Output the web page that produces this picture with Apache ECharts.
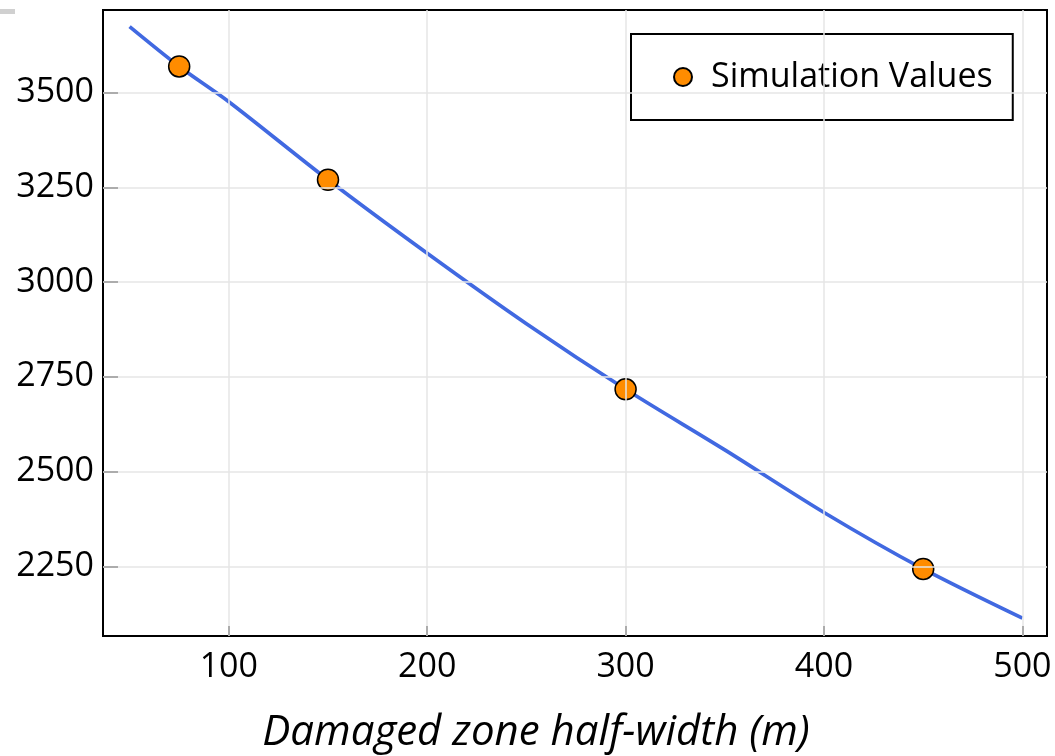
<!DOCTYPE html>
<html>
<head>
<meta charset="utf-8">
<script src="https://cdn.jsdelivr.net/npm/echarts@6/dist/echarts.min.js"></script>
<style>html,body{margin:0;padding:0;background:#fff;}#c{width:1055px;height:756px;}</style>
</head>
<body>
<div id="c"></div>
<script>
// Data
const curveX = [50, 75, 100, 150, 200, 250, 300, 350, 400, 450, 500];
const curveY = [3674, 3569, 3476, 3270, 3076, 2890, 2717, 2557, 2392, 2243, 2113];
const simX = [75, 150, 300, 450];
const simY = [3569, 3270, 2717, 2243];
const xTicks = [100, 200, 300, 400, 500];
const yTicks = [2250, 2500, 2750, 3000, 3250, 3500];

const font = 'Open Sans';
const chart = echarts.init(document.getElementById('c'), null, {renderer: 'canvas'});
chart.setOption({
  animation: false,
  backgroundColor: '#fff',
  grid: {left: 103, top: 10, right: 8, bottom: 120, containLabel: false, outerBoundsMode: 'none',
         show: true, borderColor: '#000', borderWidth: 2, backgroundColor: 'transparent'},
  legend: {
    left: 631, top: 34,
    data: ['Simulation Values'],
    borderColor: '#000', borderWidth: 2, borderRadius: 0,
    padding: [26, 20, 26, 42],
    itemWidth: 18, itemHeight: 18,
    textStyle: {fontFamily: font, fontSize: 34, color: '#000', padding: [0, 0, 0, 14]}
  },
  xAxis: {
    type: 'value', min: 36.6, max: 512.4,
    axisLine: {show: true, lineStyle: {color: '#000', width: 2}},
    axisTick: {show: true, inside: true, length: 10, lineStyle: {color: '#000', width: 2}, customValues: xTicks},
    axisLabel: {customValues: xTicks, fontFamily: font, fontSize: 34, color: '#000', margin: 14, formatter: v => String(v)},
    splitLine: {show: false},
    name: 'Damaged zone half-width (m)', nameLocation: 'middle', nameGap: 76,
    nameTextStyle: {fontFamily: font, fontSize: 42, fontStyle: 'italic', color: '#000', padding: [0, 78, 0, 0]}
  },
  yAxis: {
    type: 'value', min: 2066, max: 3718,
    axisLine: {show: true, lineStyle: {color: '#000', width: 2}},
    axisTick: {show: true, inside: true, length: 15, lineStyle: {color: '#000', width: 2}, customValues: yTicks},
    axisLabel: {customValues: yTicks, fontFamily: font, fontSize: 34, color: '#000', margin: 9, formatter: v => String(v)},
    splitLine: {show: false}
  },
  graphic: [{type: 'rect', shape: {x: 0, y: 9, width: 15, height: 5}, style: {fill: '#d0d0d0'}, silent: true}],
  series: [
    {
      type: 'line', name: 'grid', data: [], silent: true, z: 1,
      markLine: {
        silent: true, symbol: 'none', animation: false,
        label: {show: false},
        lineStyle: {color: '#e6e6e6', width: 1.5, type: 'solid'},
        data: xTicks.map(v => ({xAxis: v})).concat(yTicks.map(v => ({yAxis: v})))
      }
    },
    {
      type: 'line', name: 'fit', z: 2,
      data: curveX.map((x, i) => [x, curveY[i]]),
      smooth: 0.3, showSymbol: false,
      lineStyle: {color: '#4169e1', width: 3.7}
    },
    {
      type: 'scatter', name: 'Simulation Values', z: 3,
      data: simX.map((x, i) => [x, simY[i]]),
      symbolSize: 21,
      itemStyle: {color: '#ff8c00', borderColor: '#000', borderWidth: 1.5, opacity: 1}
    }
  ]
});
</script>
</body>
</html>
